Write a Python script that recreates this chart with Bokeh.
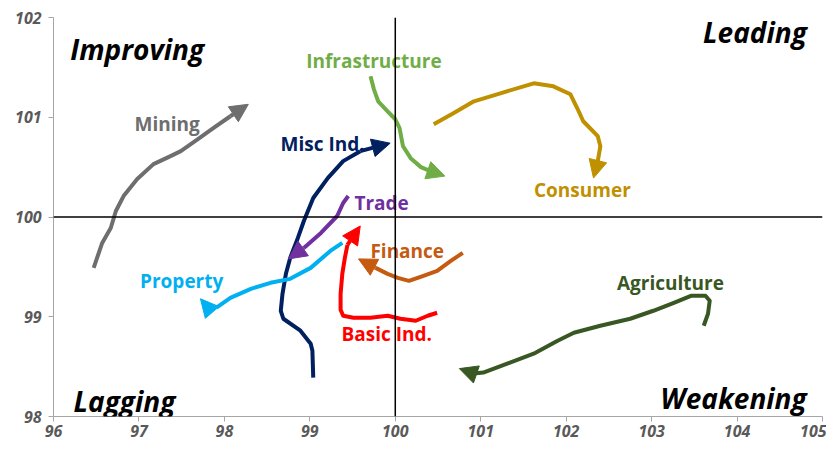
from bokeh.plotting import figure
from bokeh.models import ColumnDataSource, Span, Arrow, NormalHead, FixedTicker, LabelSet
from bokeh.core.properties import value
from bokeh.embed import file_html
from bokeh.resources import INLINE

# ---- data: (RS-Ratio, RS-Momentum) tails, oldest first, last point = arrow tip ----
mining_x = [96.47, 96.57, 96.67, 96.73, 96.82, 96.98, 97.17, 97.37, 97.49, 97.69, 97.87, 98.07, 98.28]
mining_y = [99.49, 99.74, 99.89, 100.06, 100.21, 100.38, 100.53, 100.61, 100.66, 100.78, 100.89, 101.01, 101.13]

misc_x = [99.04, 99.03, 99.01, 98.89, 98.69, 98.66, 98.68, 98.72, 98.77, 98.86, 98.93, 99.04, 99.21, 99.39, 99.59, 99.94]
misc_y = [98.39, 98.66, 98.73, 98.86, 98.98, 99.06, 99.23, 99.43, 99.59, 99.79, 99.96, 100.19, 100.39, 100.56, 100.66, 100.74]

trade_x = [99.45, 99.39, 99.32, 99.13, 98.93, 98.75]
trade_y = [100.21, 100.14, 100.01, 99.84, 99.69, 99.58]

property_x = [99.38, 99.24, 99.01, 98.77, 98.54, 98.31, 98.07, 97.92, 97.81, 97.72]
property_y = [99.74, 99.66, 99.49, 99.38, 99.34, 99.28, 99.19, 99.10, 99.09, 99.18]

infra_x = [99.71, 99.75, 99.80, 99.91, 100.00, 100.05, 100.09, 100.18, 100.30, 100.41, 100.58]
infra_y = [101.41, 101.28, 101.16, 101.06, 100.98, 100.89, 100.71, 100.59, 100.50, 100.46, 100.41]

consumer_x = [100.45, 100.68, 100.92, 101.23, 101.62, 101.85, 102.05, 102.13, 102.20, 102.37, 102.40, 102.37, 102.32]
consumer_y = [100.93, 101.04, 101.16, 101.24, 101.34, 101.31, 101.23, 101.09, 100.96, 100.81, 100.71, 100.56, 100.39]

finance_x = [100.79, 100.65, 100.49, 100.33, 100.16, 100.03, 99.91, 99.77, 99.57]
finance_y = [99.64, 99.56, 99.46, 99.41, 99.36, 99.39, 99.43, 99.49, 99.58]

basic_x = [100.49, 100.38, 100.24, 100.06, 99.91, 99.71, 99.51, 99.39, 99.36, 99.36, 99.38, 99.41, 99.44, 99.59]
basic_y = [99.04, 99.01, 98.96, 98.98, 99.01, 98.99, 98.99, 99.01, 99.07, 99.23, 99.43, 99.59, 99.72, 99.91]

agri_x = [103.61, 103.66, 103.68, 103.63, 103.46, 103.26, 103.02, 102.75, 102.40, 102.09, 101.90, 101.62, 101.31, 101.03, 100.92, 100.75]
agri_y = [98.91, 99.03, 99.16, 99.21, 99.21, 99.14, 99.06, 98.98, 98.91, 98.84, 98.76, 98.63, 98.53, 98.44, 98.43, 98.48]

sector_names = ["Mining", "Misc Ind.", "Trade", "Property", "Infrastructure",
                "Consumer", "Finance", "Basic Ind.", "Agriculture"]
sector_xs = [mining_x, misc_x, trade_x, property_x, infra_x, consumer_x, finance_x, basic_x, agri_x]
sector_ys = [mining_y, misc_y, trade_y, property_y, infra_y, consumer_y, finance_y, basic_y, agri_y]
sector_colors = ["#6e6e6e", "#002060", "#7030a0", "#00b0f0", "#70ad47",
                 "#bf9000", "#c55a11", "#ff0000", "#385723"]

# label anchor positions (data units)
label_x = [97.33, 99.15, 99.84, 97.50, 99.75, 102.19, 100.14, 99.90, 103.22]
label_y = [100.93, 100.73, 100.14, 99.36, 101.56, 100.27, 99.66, 98.83, 99.34]

quad_names = ["Improving", "Leading", "Lagging", "Weakening"]
quad_x = [96.98, 104.21, 96.83, 103.96]
quad_y = [101.68, 101.85, 98.16, 98.19]

x_ticks = [96, 97, 98, 99, 100, 101, 102, 103, 104, 105]
y_ticks = [98, 99, 100, 101, 102]

FONT = "Open Sans"

p = figure(width=826, height=442, x_range=(96, 105), y_range=(98, 102),
           output_backend="svg", toolbar_location=None,
           min_border_left=53, min_border_right=4, min_border_top=17, min_border_bottom=26)
p.xgrid.visible = False
p.ygrid.visible = False
p.outline_line_color = None
p.background_fill_color = "white"
p.border_fill_color = "white"

for ax, ticks in ((p.xaxis, x_ticks), (p.yaxis, y_ticks)):
    ax.ticker = FixedTicker(ticks=ticks)
    ax.axis_line_color = "#a6a6a6"
    ax.major_tick_line_color = "#a6a6a6"
    ax.major_tick_out = 5
    ax.major_tick_in = 0
    ax.minor_tick_line_color = None
    ax.major_label_text_font = FONT
    ax.major_label_text_font_style = "bold italic"
    ax.major_label_text_font_size = "16px"
    ax.major_label_text_color = "#595959"
p.xaxis.major_label_standoff = 3
p.yaxis.major_label_standoff = 7

p.add_layout(Span(location=100, dimension="height", line_color="black", line_width=1.5))
p.add_layout(Span(location=100, dimension="width", line_color="black", line_width=1.5))

for xs, ys, c in zip(sector_xs, sector_ys, sector_colors):
    p.line(xs[:-1], ys[:-1], line_color=c, line_width=4, line_join="round")
    p.add_layout(Arrow(x_start=xs[-2], y_start=ys[-2], x_end=xs[-1], y_end=ys[-1],
                       line_color=c, line_width=4,
                       end=NormalHead(size=18, fill_color=c, line_color=c, line_width=1)))

lab_src = ColumnDataSource(dict(x=label_x, y=label_y, text=sector_names, color=sector_colors))
p.text(x="x", y="y", text="text", source=lab_src, text_color="color",
       text_font=value(FONT), text_font_style="bold", text_font_size="19px",
       text_align="center", text_baseline="middle")

q_src = ColumnDataSource(dict(x=quad_x, y=quad_y, text=quad_names))
p.add_layout(LabelSet(x="x", y="y", text="text", source=q_src, text_color="black",
                      text_font=value(FONT), text_font_style="bold italic",
                      text_font_size="28px", text_align="center", text_baseline="middle"))

open("out.html", "w").write(file_html(p, INLINE))
